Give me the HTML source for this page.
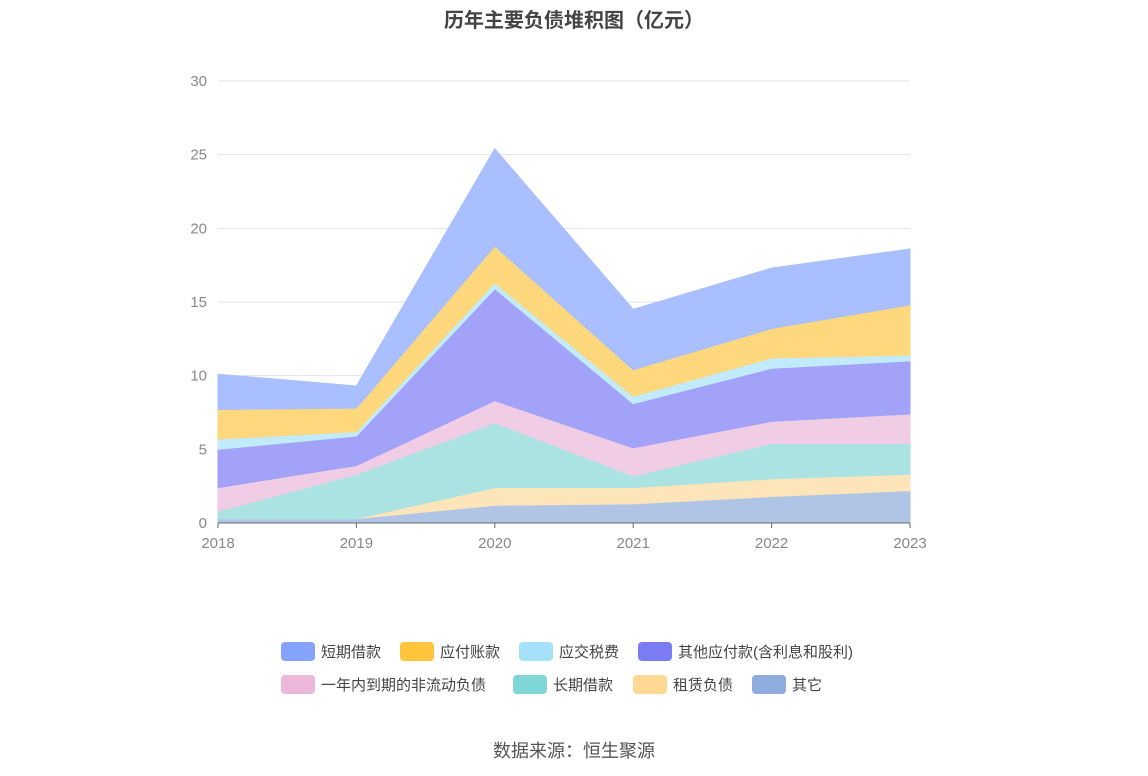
<!DOCTYPE html>
<html><head><meta charset="utf-8">
<style>
body{margin:0;background:#fff;width:1148px;height:776px;overflow:hidden;font-family:"Liberation Sans","Noto Sans CJK SC",sans-serif;}
.legend{position:absolute;font-size:15px;color:#444;}
.li{position:absolute;display:flex;align-items:center;white-space:nowrap;}
.sw{width:34px;height:19px;border-radius:4px;margin-right:6px;}
</style></head><body>
<div style="position:absolute;top:4px;width:1148px;text-align:center;font-size:20px;font-weight:bold;color:#444;">历年主要负债堆积图（亿元）</div>
<svg id="chart" width="1148" height="776" style="position:absolute;left:0;top:0"></svg>
<div class="legend">
<div class="li" style="left:281px;top:641px"><div class="sw" style="background:#86a3ff"></div>短期借款</div>
<div class="li" style="left:400px;top:641px"><div class="sw" style="background:#ffc53d"></div>应付账款</div>
<div class="li" style="left:519px;top:641px"><div class="sw" style="background:#a6e1fb"></div>应交税费</div>
<div class="li" style="left:638px;top:641px"><div class="sw" style="background:#7b7cf3"></div>其他应付款(含利息和股利)</div>
<div class="li" style="left:281px;top:674px"><div class="sw" style="background:#ebb7da"></div>一年内到期的非流动负债</div>
<div class="li" style="left:513px;top:674px"><div class="sw" style="background:#7fd6d6"></div>长期借款</div>
<div class="li" style="left:633px;top:674px"><div class="sw" style="background:#ffd994"></div>租赁负债</div>
<div class="li" style="left:752px;top:674px"><div class="sw" style="background:#8eadde"></div>其它</div>
</div>
<div style="position:absolute;top:737px;width:1148px;text-align:center;font-size:18px;color:#555;">数据来源：恒生聚源</div>
<script>
const categories=["2018","2019","2020","2021","2022","2023"];
const yTicks=[0,5,10,15,20,25,30];
const otherVals=[0.3,0.3,1.2,1.3,1.8,2.2];
const leaseVals=[0.0,0.0,1.2,1.1,1.2,1.1];
const longLoanVals=[0.5,3.0,4.4,0.8,2.4,2.1];
const currentNonCurVals=[1.6,0.6,1.5,1.9,1.5,2.0];
const otherPayVals=[2.6,2.0,7.6,3.0,3.6,3.6];
const taxVals=[0.7,0.3,0.4,0.5,0.7,0.4];
const payablesVals=[2.0,1.6,2.5,1.8,2.0,3.4];
const shortLoanVals=[2.4,1.5,6.6,4.1,4.1,3.8];
const series=[
 ["other",otherVals,"#b0c5e6"],["lease",leaseVals,"#fde4b9"],["long-loan",longLoanVals,"#abe3e3"],
 ["current-noncurrent",currentNonCurVals,"#f0cde4"],["other-payables",otherPayVals,"#a1a2f8"],
 ["tax",taxVals,"#c1ebfb"],["payables",payablesVals,"#ffd77c"],["short-loan",shortLoanVals,"#aabfff"]];
const svg=document.getElementById('chart');const NS="http://www.w3.org/2000/svg";
const X0=218,X1=910,Y0=523,Y1=81,YMAX=30;
const x=i=>X0+(X1-X0)*i/(categories.length-1);
const y=v=>Y0-(Y0-Y1)*v/YMAX;
function mk(t,a){const e=document.createElementNS(NS,t);for(const k in a)e.setAttribute(k,a[k]);svg.appendChild(e);return e;}
yTicks.forEach(t=>{
 const l=mk('line',{x1:X0,x2:X1,y1:y(t),y2:y(t),stroke:'#e0e3ea','stroke-width':1});
 
 
 const tx=mk('text',{x:207,y:y(t)+5,'text-anchor':'end','font-size':15,fill:'#888'});tx.textContent=t;
 
 
});
let base=categories.map(()=>0);
series.forEach(([name,vals,col])=>{
 const top=base.map((b,i)=>b+vals[i]);
 let d=top.map((v,i)=>(i?'L':'M')+x(i)+','+y(v)).join(' ');
 for(let i=categories.length-1;i>=0;i--)d+=' L'+x(i)+','+y(base[i]);
 const p=mk('path',{d:d+' Z',fill:col,stroke:col,'stroke-width':1});
 
 
 base=top;
});
const ax=mk('line',{x1:X0,x2:X1,y1:Y0,y2:Y0,stroke:'#666','stroke-width':1});


categories.forEach((c,i)=>{
 const tk=mk('line',{x1:x(i),x2:x(i),y1:Y0,y2:Y0+5,stroke:'#666'});
 
 
 const t=mk('text',{x:x(i),y:548,'text-anchor':'middle','font-size':15,fill:'#888'});t.textContent=c;
 
 
});
</script>
</body></html>
